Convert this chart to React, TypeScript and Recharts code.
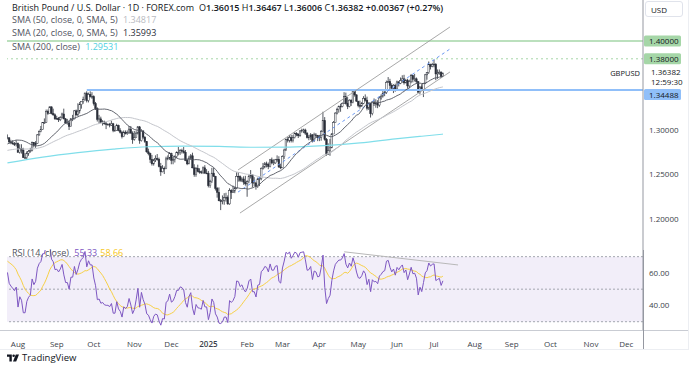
import React from "react";
import {
  ComposedChart,
  Bar,
  Line,
  XAxis,
  YAxis,
  ReferenceLine,
  ReferenceArea,
} from "recharts";

const FONT = '"Open Sans", "Noto Sans", sans-serif';

// closes 16 May - 23 Jul 2024, only used to seed SMA 50 and RSI 14
const warmupCloses = [
  1.2665, 1.2705, 1.2705, 1.271, 1.2715, 1.272, 1.274, 1.276, 1.275, 1.271, 1.2735, 1.274,
  1.28, 1.278, 1.279, 1.2795, 1.272, 1.2725, 1.2745, 1.2795, 1.2775, 1.2685, 1.271, 1.2705,
  1.2715, 1.2655, 1.2645, 1.2685, 1.269, 1.2625, 1.264, 1.2645,
  1.265, 1.2685, 1.2745, 1.276, 1.2815, 1.2805, 1.2795, 1.2845, 1.2915, 1.299, 1.297, 1.297,
  1.3, 1.296, 1.2915, 1.2925, 1.291,
];

// daily bars [high, low, close]; open = previous close
const jul24 = [
  [1.295, 1.2895, 1.2912], [1.292, 1.2845, 1.2867], [1.289, 1.284, 1.2855],
  [1.2885, 1.2835, 1.2845], [1.2865, 1.282, 1.2835], [1.2885, 1.2815, 1.285],
];
const aug24 = [
  [1.286, 1.2745, 1.275], [1.284, 1.2735, 1.2795], [1.284, 1.2735, 1.2775], [1.28, 1.2685, 1.269],
  [1.274, 1.2675, 1.269], [1.276, 1.2665, 1.274], [1.2775, 1.271, 1.276], [1.28, 1.2745, 1.277],
  [1.287, 1.276, 1.286], [1.2865, 1.2805, 1.283], [1.2875, 1.28, 1.285], [1.2955, 1.2845, 1.2945],
  [1.2995, 1.2935, 1.2985], [1.3045, 1.2975, 1.3005], [1.309, 1.3, 1.3085], [1.313, 1.307, 1.3085],
  [1.323, 1.308, 1.321], [1.323, 1.317, 1.3185], [1.3265, 1.3185, 1.326], [1.3265, 1.3175, 1.3185],
  [1.324, 1.316, 1.317], [1.3185, 1.3115, 1.3125],
];
const sep24 = [
  [1.316, 1.3115, 1.313], [1.3145, 1.309, 1.3115], [1.3155, 1.31, 1.314], [1.3195, 1.313, 1.318],
  [1.324, 1.312, 1.3125], [1.3135, 1.307, 1.308], [1.3125, 1.306, 1.308], [1.311, 1.3, 1.304],
  [1.3135, 1.304, 1.3125], [1.317, 1.31, 1.3125], [1.3225, 1.312, 1.3215], [1.323, 1.316, 1.317],
  [1.33, 1.3155, 1.3215], [1.3315, 1.3185, 1.3285], [1.332, 1.324, 1.332], [1.3375, 1.3295, 1.334],
  [1.342, 1.333, 1.3415], [1.3435, 1.331, 1.333], [1.342, 1.331, 1.34], [1.3435, 1.3365, 1.3375],
  [1.3425, 1.335, 1.3375],
];
const oct24 = [
  [1.339, 1.3275, 1.3295], [1.3315, 1.3225, 1.324], [1.3255, 1.3095, 1.312], [1.317, 1.307, 1.3125],
  [1.315, 1.3075, 1.3085], [1.311, 1.305, 1.309], [1.3105, 1.306, 1.307], [1.309, 1.301, 1.3065],
  [1.3075, 1.305, 1.3065], [1.308, 1.303, 1.3055], [1.3105, 1.3045, 1.307], [1.308, 1.2975, 1.2995],
  [1.3045, 1.2985, 1.2995], [1.307, 1.299, 1.305], [1.306, 1.2985, 1.2995], [1.302, 1.296, 1.2975],
  [1.299, 1.2905, 1.2925], [1.2995, 1.292, 1.2975], [1.2995, 1.295, 1.296], [1.2995, 1.2945, 1.297],
  [1.3045, 1.2955, 1.301], [1.3045, 1.296, 1.2965], [1.2985, 1.2845, 1.2895],
];
const nov24 = [
  [1.299, 1.288, 1.2915], [1.2985, 1.2915, 1.2965], [1.3045, 1.295, 1.3035], [1.3045, 1.2845, 1.288],
  [1.301, 1.287, 1.299], [1.2995, 1.29, 1.292], [1.293, 1.2855, 1.287], [1.2875, 1.2745, 1.2755],
  [1.279, 1.2715, 1.2735], [1.2745, 1.263, 1.267], [1.272, 1.26, 1.262], [1.2675, 1.26, 1.2665],
  [1.2715, 1.264, 1.268], [1.273, 1.2655, 1.267], [1.269, 1.258, 1.259], [1.263, 1.2485, 1.253],
  [1.2605, 1.2525, 1.257], [1.259, 1.2505, 1.2565], [1.27, 1.256, 1.2675], [1.2715, 1.266, 1.2685],
  [1.275, 1.2665, 1.2735],
];
const dec24 = [
  [1.2745, 1.2615, 1.266], [1.27, 1.2615, 1.267], [1.2715, 1.2635, 1.27], [1.276, 1.2685, 1.2745],
  [1.281, 1.2715, 1.2745], [1.2785, 1.272, 1.277], [1.279, 1.2735, 1.2765], [1.281, 1.2735, 1.275],
  [1.2775, 1.265, 1.266], [1.2675, 1.2605, 1.262], [1.271, 1.2615, 1.2685], [1.273, 1.2665, 1.271],
  [1.2745, 1.257, 1.2575], [1.2615, 1.2475, 1.25], [1.2585, 1.2475, 1.257], [1.261, 1.2525, 1.2535],
  [1.257, 1.251, 1.253], [1.2545, 1.2505, 1.252], [1.259, 1.2505, 1.2575], [1.2605, 1.251, 1.2515],
  [1.256, 1.2505, 1.2515],
];
const jan25 = [
  [1.254, 1.2355, 1.2375], [1.244, 1.235, 1.242], [1.2575, 1.2405, 1.2515], [1.2575, 1.2475, 1.248],
  [1.2485, 1.232, 1.2345], [1.236, 1.224, 1.23], [1.2355, 1.22, 1.2205], [1.2225, 1.21, 1.22],
  [1.2265, 1.2165, 1.221], [1.229, 1.216, 1.224], [1.2295, 1.2195, 1.224], [1.2265, 1.216, 1.217],
  [1.2345, 1.216, 1.232], [1.2335, 1.2225, 1.23], [1.2375, 1.2295, 1.2315], [1.2365, 1.229, 1.2345],
  [1.2525, 1.2335, 1.248], [1.2525, 1.242, 1.2475], [1.249, 1.2415, 1.2435], [1.247, 1.2415, 1.245],
  [1.248, 1.2385, 1.2415], [1.2485, 1.2375, 1.2395],
];
const feb25 = [
  [1.2435, 1.225, 1.242], [1.25, 1.2405, 1.248], [1.255, 1.2455, 1.2495], [1.25, 1.2355, 1.2405],
  [1.247, 1.237, 1.2405], [1.242, 1.233, 1.2365], [1.2465, 1.235, 1.245], [1.2475, 1.237, 1.2455],
  [1.258, 1.2435, 1.257], [1.263, 1.2555, 1.2585], [1.264, 1.257, 1.262], [1.2645, 1.258, 1.2615],
  [1.2635, 1.256, 1.259], [1.2675, 1.258, 1.2665], [1.269, 1.2615, 1.263], [1.267, 1.2605, 1.263],
  [1.2675, 1.262, 1.2665], [1.2715, 1.264, 1.267], [1.2705, 1.2575, 1.2585], [1.262, 1.256, 1.2575],
];
const mar25 = [
  [1.2715, 1.2575, 1.27], [1.279, 1.2675, 1.2775], [1.2905, 1.2765, 1.2895], [1.292, 1.286, 1.2885],
  [1.2945, 1.286, 1.2915], [1.2945, 1.286, 1.288], [1.2945, 1.286, 1.2915], [1.2975, 1.2905, 1.296],
  [1.2975, 1.293, 1.2955], [1.296, 1.291, 1.2935], [1.2995, 1.2925, 1.299], [1.3015, 1.297, 1.2995],
  [1.3015, 1.2965, 1.3], [1.3015, 1.2945, 1.2965], [1.2975, 1.2905, 1.2915], [1.2945, 1.2885, 1.292],
  [1.2965, 1.289, 1.2945], [1.2955, 1.286, 1.288], [1.297, 1.2865, 1.2945], [1.2965, 1.2915, 1.294],
  [1.2945, 1.2875, 1.2915],
];
const apr25 = [
  [1.2945, 1.2875, 1.292], [1.3, 1.288, 1.2985], [1.3205, 1.2985, 1.3105], [1.3145, 1.288, 1.2895],
  [1.291, 1.271, 1.2725], [1.285, 1.272, 1.277], [1.29, 1.271, 1.28], [1.2965, 1.2795, 1.2955],
  [1.31, 1.2955, 1.3085], [1.32, 1.3085, 1.319], [1.325, 1.3175, 1.323], [1.3275, 1.3195, 1.3265],
  [1.3295, 1.3205, 1.3265], [1.331, 1.3255, 1.33], [1.3425, 1.3295, 1.3375], [1.342, 1.3285, 1.3295],
  [1.337, 1.3235, 1.3265], [1.3345, 1.3255, 1.3335], [1.3345, 1.327, 1.331], [1.3445, 1.33, 1.344],
  [1.3445, 1.3375, 1.3395], [1.34, 1.3315, 1.3325],
];
const may25 = [
  [1.3325, 1.3255, 1.3275], [1.333, 1.324, 1.327], [1.3315, 1.326, 1.33], [1.338, 1.329, 1.3355],
  [1.34, 1.332, 1.3335], [1.3375, 1.322, 1.3245], [1.331, 1.3225, 1.33], [1.3305, 1.314, 1.3185],
  [1.3325, 1.3165, 1.3315], [1.3355, 1.327, 1.3295], [1.3345, 1.325, 1.33], [1.3335, 1.3245, 1.328],
  [1.338, 1.326, 1.336], [1.34, 1.334, 1.338], [1.3445, 1.3365, 1.341], [1.3445, 1.338, 1.342],
  [1.3555, 1.3405, 1.3535], [1.3595, 1.353, 1.3545], [1.3575, 1.3445, 1.35], [1.3525, 1.345, 1.347],
  [1.3515, 1.3415, 1.35], [1.352, 1.343, 1.346],
];
const jun25 = [
  [1.3555, 1.345, 1.354], [1.355, 1.349, 1.3525], [1.359, 1.3515, 1.3555], [1.3615, 1.353, 1.3575],
  [1.362, 1.351, 1.353], [1.3575, 1.3525, 1.3555], [1.3575, 1.3465, 1.3495], [1.3565, 1.347, 1.3545],
  [1.363, 1.3525, 1.361], [1.362, 1.3535, 1.357], [1.363, 1.3545, 1.3575], [1.359, 1.352, 1.3545],
  [1.3545, 1.3415, 1.3425], [1.349, 1.34, 1.3485], [1.3515, 1.344, 1.345], [1.353, 1.337, 1.3525],
  [1.363, 1.3515, 1.362], [1.365, 1.3565, 1.3645], [1.377, 1.363, 1.3735], [1.3745, 1.368, 1.3715],
  [1.3755, 1.3705, 1.3735],
];
const jul25 = [
  [1.379, 1.3705, 1.374], [1.375, 1.356, 1.363], [1.368, 1.3575, 1.364], [1.368, 1.362, 1.365],
  [1.366, 1.3585, 1.36015], [1.36467, 1.36006, 1.36382],
];

const monthStarts = [6, 28, 49, 72, 93, 114, 136, 156, 177, 199, 221, 242, 265, 286, 308, 331, 351];
const monthLabels = ["Aug", "Sep", "Oct", "Nov", "Dec", "2025", "Feb", "Mar", "Apr", "May", "Jun", "Jul", "Aug", "Sep", "Oct", "Nov", "Dec"];

// SMA 200 at a few bars
const sma200Idx = [0, 20, 40, 60, 80, 100, 120, 140, 160, 180, 200, 220, 235, 247];
const sma200Val = [1.263, 1.2695, 1.2745, 1.2785, 1.2812, 1.2818, 1.2815, 1.2806, 1.2808, 1.2825, 1.2855, 1.29, 1.293, 1.2953];

const priceTicks = [1.2, 1.25, 1.3];
const rsiTicks = [40, 60];

// drawn objects
const channelUpper = [[130.8, 1.2551], [251, 1.4157]];
const channelMid = [[130.8, 1.2303], [251, 1.391]];
const channelLower = [[131.9, 1.2067], [251, 1.3652]];
const supportLevel = 1.34488;
const supportStart = 45;
const rsiTrend = [[191, 73], [255.6, 64.9]];

const X_MIN = -0.25;
const X_MAX = 360.5;
const P_MIN = 1.16517;
const P_MAX = 1.44607;
const R_MIN = 24.9;
const R_MAX = 74.1;

const bars = [jul24, aug24, sep24, oct24, nov24, dec24, jan25, feb25, mar25, apr25, may25, jun25, jul25].flat();
const allCloses = [...warmupCloses, ...bars.map((b) => b[2])];
const W = warmupCloses.length;

const smaAt = (k: number, n: number) => {
  let s = 0;
  for (let j = k - n + 1; j <= k; j++) s += allCloses[j];
  return s / n;
};

// RSI 14 (Wilder)
const rsiAll: (number | null)[] = allCloses.map(() => null);
{
  let ag = 0;
  let al = 0;
  for (let k = 1; k < allCloses.length; k++) {
    const ch = allCloses[k] - allCloses[k - 1];
    const g = Math.max(ch, 0);
    const l = Math.max(-ch, 0);
    if (k <= 14) {
      ag += g / 14;
      al += l / 14;
    } else {
      ag = (ag * 13 + g) / 14;
      al = (al * 13 + l) / 14;
    }
    if (k >= 14) rsiAll[k] = al === 0 ? 100 : 100 - 100 / (1 + ag / al);
  }
}
const rsiMaAt = (k: number) => {
  let s = 0;
  for (let j = k - 13; j <= k; j++) s += rsiAll[j] as number;
  return s / 14;
};

const priceData = bars.map((b, i) => {
  const k = W + i;
  const o = allCloses[k - 1];
  const [h, l, c] = b;
  const si = sma200Idx.indexOf(i);
  return {
    i,
    o,
    h,
    l,
    c,
    range: [l, h],
    sma20: smaAt(k, 20),
    sma50: smaAt(k, 50),
    sma200: si >= 0 ? sma200Val[si] : null,
  };
});

const rsiData = bars.map((_, i) => {
  const k = W + i;
  return { i, rsi: rsiAll[k], rsiMa: rsiMaAt(k) };
});

const Candle = (props: any) => {
  const { x, y, width, height, payload } = props;
  if (!payload || x == null) return null;
  const { o, h, l, c } = payload;
  const cx = x + width / 2;
  const top = Math.min(y, y + height);
  const bot = Math.max(y, y + height);
  const ppu = (bot - top) / (h - l || 1e-9);
  const yOf = (p: number) => top + (h - p) * ppu;
  const bTop = yOf(Math.max(o, c));
  const bBot = yOf(Math.min(o, c));
  const up = c >= o;
  return (
    <g>
      <line x1={cx} x2={cx} y1={top} y2={bot} stroke="#2a2e39" strokeWidth={0.8} />
      <rect
        x={cx - 0.8}
        width={1.6}
        y={bTop}
        height={Math.max(bBot - bTop, 0.7)}
        fill={up ? "#ffffff" : "#2a2e39"}
        stroke="#2a2e39"
        strokeWidth={0.5}
      />
    </g>
  );
};

const PriceTag = ({ viewBox, text, bg, dy = 0 }: any) => {
  if (!viewBox) return null;
  const x = viewBox.x + viewBox.width + 1;
  const y = viewBox.y + dy;
  return (
    <g>
      <rect x={x} y={y - 5.5} width={37} height={11} rx={1.5} fill={bg} />
      <text x={x + 5} y={y + 3} fontSize={8} fontFamily={FONT} fill="#131722">
        {text}
      </text>
    </g>
  );
};

const MonthTick = ({ x, y, payload }: any) => {
  const idx = monthStarts.indexOf(payload.value);
  const label = monthLabels[idx] ?? "";
  return (
    <text
      x={x}
      y={y + 8.5}
      textAnchor="middle"
      fontSize={8}
      fontFamily={FONT}
      fontWeight={label === "2025" ? 600 : 400}
      fill="#3b3f4a"
    >
      {label}
    </text>
  );
};

const axisTick = { fontSize: 8, fontFamily: FONT, fill: "#3b3f4a" };

const abs = (s: React.CSSProperties): React.CSSProperties => ({ position: "absolute", ...s });
const legendRow = (top: number): React.CSSProperties =>
  abs({ left: 12, top, fontSize: 9, color: "#50535e", whiteSpace: "nowrap", lineHeight: "12px" });

export default function App() {
  return (
    <div style={abs({ left: 0, top: 0, width: 700, height: 375, background: "#fff", overflow: "hidden", fontFamily: FONT })}>
      <div style={abs({ left: 0, top: 0 })}>
        <ComposedChart width={700} height={250} data={priceData} margin={{ top: 0, right: 12, bottom: 0, left: 7 }}>
          <XAxis type="number" dataKey="i" domain={[X_MIN, X_MAX]} allowDataOverflow hide />
          <YAxis
            orientation="right"
            domain={[P_MIN, P_MAX]}
            allowDataOverflow
            ticks={priceTicks}
            tickFormatter={(v: number) => v.toFixed(5)}
            width={45}
            tick={axisTick}
            tickLine={false}
            tickSize={4}
            tickMargin={2}
            axisLine={{ stroke: "#9598a1" }}
          />
          <ReferenceLine
            y={1.4}
            stroke="#a5d6a7"
            strokeWidth={1.5}
            label={<PriceTag text="1.40000" bg="#a5d6a7" />}
          />
          <ReferenceLine
            y={1.38}
            stroke="#a5d6a7"
            strokeDasharray="2 3"
            label={<PriceTag text="1.38000" bg="#a5d6a7" />}
          />
          <ReferenceLine
            segment={[
              { x: supportStart, y: supportLevel },
              { x: X_MAX, y: supportLevel },
            ]}
            stroke="#90bff9"
            strokeWidth={2}
          />
          <ReferenceLine
            y={supportLevel}
            stroke="none"
            label={<PriceTag text="1.34488" bg="#90bff9" dy={4.5} />}
          />
          <ReferenceLine
            segment={channelUpper.map(([x, y]) => ({ x, y }))}
            stroke="#9e9e9e"
            strokeWidth={0.9}
            ifOverflow="visible"
          />
          <ReferenceLine
            segment={channelLower.map(([x, y]) => ({ x, y }))}
            stroke="#9e9e9e"
            strokeWidth={0.9}
            ifOverflow="visible"
          />
          <ReferenceLine
            segment={channelMid.map(([x, y]) => ({ x, y }))}
            stroke="#5b8def"
            strokeWidth={0.9}
            strokeDasharray="3 3"
            ifOverflow="visible"
          />
          <Line
            dataKey="sma200"
            type="monotone"
            connectNulls
            dot={false}
            stroke="#80deea"
            strokeWidth={1.2}
            isAnimationActive={false}
          />
          <Line dataKey="sma50" dot={false} stroke="#c4c6cc" strokeWidth={1} isAnimationActive={false} />
          <Line dataKey="sma20" dot={false} stroke="#50535e" strokeWidth={0.9} isAnimationActive={false} />
          <Bar dataKey="range" barSize={1.6} shape={<Candle />} isAnimationActive={false} />
        </ComposedChart>
      </div>

      <div style={abs({ left: 0, top: 250 })}>
        <ComposedChart width={700} height={100} data={rsiData} margin={{ top: 0, right: 12, bottom: 0, left: 7 }}>
          <XAxis
            type="number"
            dataKey="i"
            domain={[X_MIN, X_MAX]}
            allowDataOverflow
            ticks={monthStarts}
            interval={0}
            height={20}
            axisLine={false}
            tickLine={false}
            tick={<MonthTick />}
          />
          <YAxis
            orientation="right"
            domain={[R_MIN, R_MAX]}
            allowDataOverflow
            ticks={rsiTicks}
            tickFormatter={(v: number) => v.toFixed(2)}
            width={45}
            tick={axisTick}
            tickLine={false}
            tickSize={4}
            tickMargin={2}
            axisLine={{ stroke: "#9598a1" }}
          />
          <ReferenceArea y1={30} y2={70} fill="#7e57c2" fillOpacity={0.1} stroke="none" />
          <ReferenceLine y={70} stroke="#a3a6af" strokeDasharray="2 2" />
          <ReferenceLine y={50} stroke="#a3a6af" strokeDasharray="2 2" />
          <ReferenceLine y={30} stroke="#a3a6af" strokeDasharray="2 2" />
          <ReferenceLine
            segment={rsiTrend.map(([x, y]) => ({ x, y }))}
            stroke="#b8b8b8"
            strokeWidth={1}
            ifOverflow="visible"
          />
          <Line dataKey="rsiMa" dot={false} stroke="#f7d046" strokeWidth={1} isAnimationActive={false} />
          <Line dataKey="rsi" dot={false} stroke="#7e57c2" strokeWidth={1} isAnimationActive={false} />
        </ComposedChart>
      </div>

      {/* frame */}
      <div style={abs({ left: 0, top: 330, width: 688, height: 1, background: "#c9ccd3" })} />
      <div style={abs({ left: 643, top: 250, width: 1, height: 99, background: "#9598a1" })} />
      <div style={abs({ left: 688, top: 0, width: 1, height: 349, background: "#eceef2" })} />
      <div style={abs({ left: 0, top: 349, width: 689, height: 1, background: "#eceef2" })} />

      {/* legend */}
      <div style={{ ...legendRow(1.5), color: "#131722" }}>
        British Pound / U.S. Dollar · 1D · FOREX.com
        <span style={{ marginLeft: 5 }}>
          O<b style={{ fontWeight: 600 }}>1.36015</b> H<b style={{ fontWeight: 600 }}>1.36467</b> L
          <b style={{ fontWeight: 600 }}>1.36006</b> C<b style={{ fontWeight: 600 }}>1.36382</b>{" "}
          <b style={{ fontWeight: 600 }}>+0.00367 (+0.27%)</b>
        </span>
      </div>
      <div style={legendRow(14)}>
        SMA (50, close, 0, SMA, 5) <span style={{ color: "#b8bac1", marginLeft: 3 }}>1.34817</span>
      </div>
      <div style={legendRow(27)}>
        SMA (20, close, 0, SMA, 5) <span style={{ color: "#2a2e39", marginLeft: 3 }}>1.35993</span>
      </div>
      <div style={legendRow(41)}>
        SMA (200, close) <span style={{ color: "#4dd0e1", marginLeft: 3 }}>1.29531</span>
      </div>
      <div style={legendRow(247)}>
        RSI (14, close) <span style={{ color: "#7e57c2", marginLeft: 3 }}>55.33</span>
        <span style={{ color: "#f5c518", marginLeft: 3 }}>58.66</span>
      </div>

      {/* price scale extras */}
      <div
        style={abs({
          left: 645,
          top: 1,
          width: 38,
          height: 16,
          border: "1px solid #e0e3eb",
          borderRadius: 3,
          fontSize: 8,
          lineHeight: "16px",
          paddingLeft: 5,
          boxSizing: "border-box",
          color: "#131722",
        })}
      >
        USD
      </div>
      <div style={abs({ left: 600, top: 68, width: 40, textAlign: "right", fontSize: 7.5, color: "#131722", lineHeight: "10px" })}>
        GBPUSD
      </div>
      <div style={abs({ left: 651, top: 67, fontSize: 8, color: "#131722", lineHeight: "10px" })}>1.36382</div>
      <div style={abs({ left: 651, top: 77, fontSize: 8, color: "#131722", lineHeight: "10px" })}>12:59:30</div>

      {/* footer */}
      <div style={abs({ left: 7, top: 351, display: "flex", alignItems: "center", gap: 3 })}>
        <svg width={12} height={8} viewBox="0 0 15 9">
          <path d="M0 0 H6 V9 H3 V3 H0 Z" fill="#131722" />
          <circle cx={8.3} cy={1.6} r={1.6} fill="#131722" />
          <path d="M11 0 H15 L11.5 9 H7.5 Z" fill="#131722" />
        </svg>
        <span style={{ fontSize: 9.5, color: "#131722", fontWeight: 500 }}>TradingView</span>
      </div>
    </div>
  );
}
